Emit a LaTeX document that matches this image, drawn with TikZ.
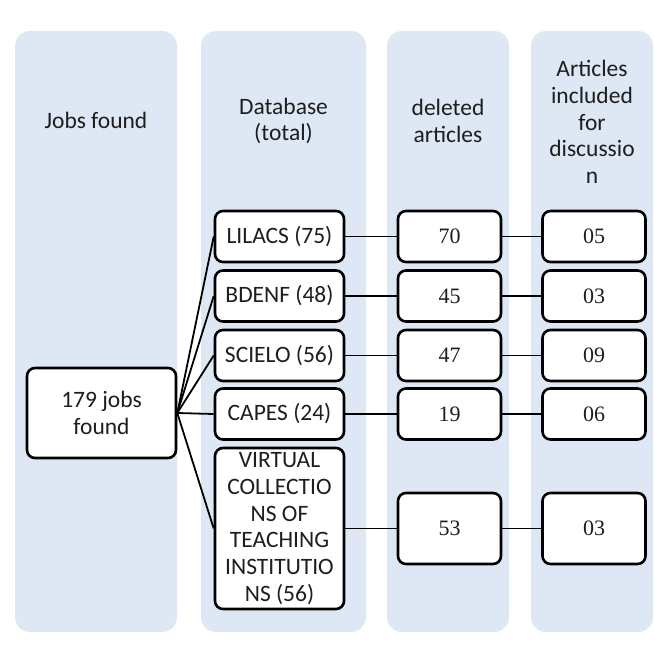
\documentclass[tikz,border=0pt]{standalone}
\usepackage{fontspec}
\setmainfont{Carlito}
\newfontfamily\numfont{Liberation Serif}
\definecolor{colbg}{HTML}{DEE8F4}
\definecolor{ink}{HTML}{1E1E1E}
\begin{document}
\begin{tikzpicture}[x=1pt, y=-1pt, font=\fontsize{23.5}{26.7}\selectfont, text=ink,
  col/.style={fill=colbg, rounded corners=15pt},
  box/.style={draw=black, line width=2.6pt, fill=white, rounded corners=8pt, align=center, inner sep=2pt},
  dbbox/.style={box, minimum width=129pt, minimum height=51pt},
  numbox/.style={box, minimum width=103pt, minimum height=51pt, font=\numfont\fontsize{22}{26.7}\selectfont},
  link/.style={line width=1.8pt}]
 \useasboundingbox (0,0) rectangle (654,655);
 % four background columns
 \fill[col](15,31) rectangle (177,632);
 \fill[col](201,31) rectangle (366,632);
 \fill[col](387,31) rectangle (509,632);
 \fill[col](531,31) rectangle (653,632);
 \node at (96,120){Jobs found};
 \node[align=center] at (283.5,121){Database\\(total)};
 \node[align=center] at (448,121){deleted\\articles};
 \node[align=center] at (592,122){Articles\\included\\for\\discussio\\n};
 \node[box, minimum width=149pt, minimum height=90pt](found) at (101.5,413){179 jobs\\found};
 % one row per database
 \foreach \n/\db/\del/\inc/\y in {1/LILACS (75)/70/05/236.5, 2/BDENF (48)/45/03/296, 3/SCIELO (56)/47/09/355.5, 4/CAPES (24)/19/06/414}
 {
     \node[dbbox](db\n) at (279.5,\y){\db};
     \node[numbox](del\n) at (449.5,\y){\del};
     \node[numbox](inc\n) at (594,\y){\inc};
 }
 \node[dbbox, minimum height=161pt](db5) at (279.5,528.5){VIRTUAL\\COLLECTIO\\NS OF\\TEACHING\\INSTITUTIO\\NS (56)};
 \node[numbox, minimum height=71pt](del5) at (449.5,528.5){53};
 \node[numbox, minimum height=71pt](inc5) at (594,528.5){03};
 \foreach \n in {1,...,5}
 {
     \draw[link](found.east)--(db\n.west);
     \draw[link](db\n.east)--(del\n.west);
     \draw[link](del\n.east)--(inc\n.west);
 }
\end{tikzpicture}
\end{document}
